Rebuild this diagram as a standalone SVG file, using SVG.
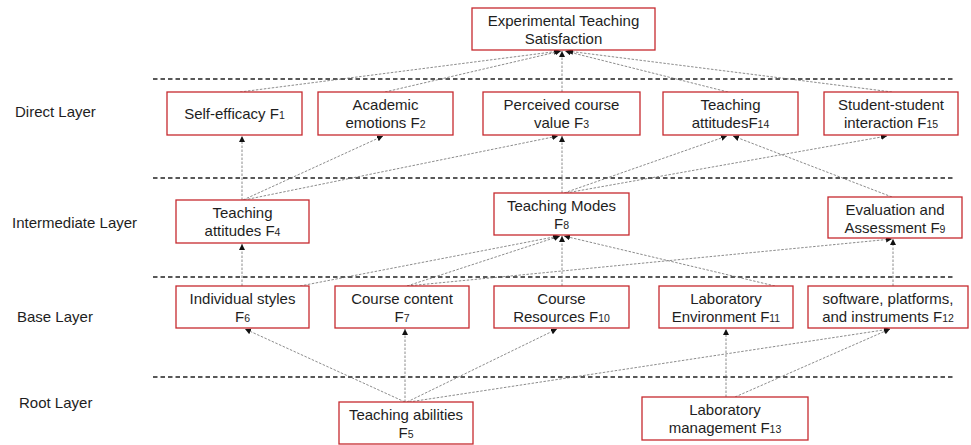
<svg xmlns="http://www.w3.org/2000/svg" width="971" height="445" viewBox="0 0 971 445">
<style>
  .box { fill: #ffffff; stroke: #c62a2f; stroke-width: 1.3; }
  .t { font-family: "Liberation Sans", Arial, sans-serif; font-size: 15px; fill: #1e1e1e; text-anchor: middle; }
  .lbl { font-family: "Liberation Sans", Arial, sans-serif; font-size: 15px; fill: #1e1e1e; }
  .sub { font-size: 10.5px; }
  .layer { stroke: #222; stroke-width: 1.3; stroke-dasharray: 4.5 3; fill: none; }
  .c { stroke: #666; stroke-width: 0.75; stroke-dasharray: 2.5 1.5; fill: none; marker-end: url(#ah); }
</style>
<defs>
  <marker id="ah" markerUnits="userSpaceOnUse" markerWidth="7" markerHeight="7" refX="6" refY="3" orient="auto">
    <path d="M0,0 L6,3 L0,6 z" fill="#111"/>
  </marker>
</defs>
<rect width="971" height="445" fill="#ffffff"/>

<g id="layers">
  <line class="layer" x1="153" y1="79" x2="955" y2="79"/>
  <line class="layer" x1="153" y1="178" x2="955" y2="178"/>
  <line class="layer" x1="153" y1="277" x2="955" y2="277"/>
  <line class="layer" x1="153" y1="377" x2="955" y2="377"/>
  <text class="lbl" x="15" y="117">Direct Layer</text>
  <text class="lbl" x="12" y="228">Intermediate Layer</text>
  <text class="lbl" x="17" y="322">Base Layer</text>
  <text class="lbl" x="19" y="408">Root Layer</text>
</g>

<g id="connectors">
  <line class="c" x1="240" y1="92" x2="560" y2="51"/>
  <line class="c" x1="385" y1="92" x2="561" y2="51"/>
  <line class="c" x1="562" y1="92" x2="562" y2="51"/>
  <line class="c" x1="728" y1="92" x2="565" y2="51"/>
  <line class="c" x1="892" y1="92" x2="567" y2="51"/>
  <line class="c" x1="242" y1="200" x2="242" y2="136"/>
  <line class="c" x1="243" y1="200" x2="383" y2="136"/>
  <line class="c" x1="244" y1="200" x2="558" y2="136"/>
  <line class="c" x1="562" y1="193" x2="562" y2="136"/>
  <line class="c" x1="564" y1="193" x2="727" y2="136"/>
  <line class="c" x1="892" y1="197" x2="733" y2="136"/>
  <line class="c" x1="566" y1="193" x2="887" y2="136"/>
  <line class="c" x1="242" y1="286" x2="242" y2="244"/>
  <line class="c" x1="300" y1="286" x2="559" y2="236"/>
  <line class="c" x1="407" y1="286" x2="560" y2="236"/>
  <line class="c" x1="407" y1="286" x2="892" y2="239"/>
  <line class="c" x1="562" y1="286" x2="562" y2="236"/>
  <line class="c" x1="775" y1="286" x2="564" y2="236"/>
  <line class="c" x1="893" y1="286" x2="893" y2="239"/>
  <line class="c" x1="405" y1="402" x2="245" y2="329"/>
  <line class="c" x1="405" y1="402" x2="405" y2="329"/>
  <line class="c" x1="407" y1="402" x2="557" y2="329"/>
  <line class="c" x1="409" y1="402" x2="890" y2="329"/>
  <line class="c" x1="726" y1="397" x2="726" y2="329"/>
  <line class="c" x1="735" y1="397" x2="890" y2="329"/>
</g>

<g id="top">
  <rect class="box" x="472" y="8" width="183" height="42"/>
  <text class="t" x="563.5" y="26">Experimental Teaching</text>
  <text class="t" x="563.5" y="44">Satisfaction</text>
</g>

<g id="F1">
  <rect class="box" x="167" y="92" width="135" height="43"/>
  <text class="t" x="234.5" y="119">Self-efficacy F<tspan class="sub">1</tspan></text>
</g>
<g id="F2">
  <rect class="box" x="318" y="92" width="135" height="43"/>
  <text class="t" x="385.5" y="110">Academic</text>
  <text class="t" x="385.5" y="128">emotions F<tspan class="sub">2</tspan></text>
</g>
<g id="F3">
  <rect class="box" x="483" y="92" width="157" height="43"/>
  <text class="t" x="561.5" y="110">Perceived course</text>
  <text class="t" x="561.5" y="128">value F<tspan class="sub">3</tspan></text>
</g>
<g id="F14">
  <rect class="box" x="663" y="92" width="135" height="43"/>
  <text class="t" x="730.5" y="110">Teaching</text>
  <text class="t" x="730.5" y="128">attitudesF<tspan class="sub">14</tspan></text>
</g>
<g id="F15">
  <rect class="box" x="824" y="92" width="134" height="43"/>
  <text class="t" x="891" y="110">Student-student</text>
  <text class="t" x="891" y="128">interaction F<tspan class="sub">15</tspan></text>
</g>

<g id="F4">
  <rect class="box" x="176" y="200" width="133" height="43"/>
  <text class="t" x="242.5" y="218">Teaching</text>
  <text class="t" x="242.5" y="236">attitudes F<tspan class="sub">4</tspan></text>
</g>
<g id="F8">
  <rect class="box" x="494" y="193" width="135" height="42"/>
  <text class="t" x="561.5" y="210.5">Teaching Modes</text>
  <text class="t" x="561.5" y="228.5">F<tspan class="sub">8</tspan></text>
</g>
<g id="F9">
  <rect class="box" x="828" y="197" width="134" height="41"/>
  <text class="t" x="895" y="214.5">Evaluation and</text>
  <text class="t" x="895" y="232.5">Assessment F<tspan class="sub">9</tspan></text>
</g>

<g id="F6">
  <rect class="box" x="176" y="286" width="133" height="42"/>
  <text class="t" x="242.5" y="303.5">Individual styles</text>
  <text class="t" x="242.5" y="321.5">F<tspan class="sub">6</tspan></text>
</g>
<g id="F7">
  <rect class="box" x="335" y="286" width="134" height="42"/>
  <text class="t" x="402" y="303.5">Course content</text>
  <text class="t" x="402" y="321.5">F<tspan class="sub">7</tspan></text>
</g>
<g id="F10">
  <rect class="box" x="494" y="286" width="135" height="42"/>
  <text class="t" x="561.5" y="303.5">Course</text>
  <text class="t" x="561.5" y="321.5">Resources F<tspan class="sub">10</tspan></text>
</g>
<g id="F11">
  <rect class="box" x="659" y="286" width="134" height="42"/>
  <text class="t" x="726" y="303.5">Laboratory</text>
  <text class="t" x="726" y="321.5">Environment F<tspan class="sub">11</tspan></text>
</g>
<g id="F12">
  <rect class="box" x="808" y="286" width="160" height="42"/>
  <text class="t" x="888" y="303.5">software, platforms,</text>
  <text class="t" x="888" y="321.5">and instruments F<tspan class="sub">12</tspan></text>
</g>

<g id="F5">
  <rect class="box" x="339" y="402" width="134" height="42"/>
  <text class="t" x="406" y="420">Teaching abilities</text>
  <text class="t" x="406" y="438">F<tspan class="sub">5</tspan></text>
</g>
<g id="F13">
  <rect class="box" x="642" y="397" width="166" height="43"/>
  <text class="t" x="725" y="415">Laboratory</text>
  <text class="t" x="725" y="433">management F<tspan class="sub">13</tspan></text>
</g>
</svg>
